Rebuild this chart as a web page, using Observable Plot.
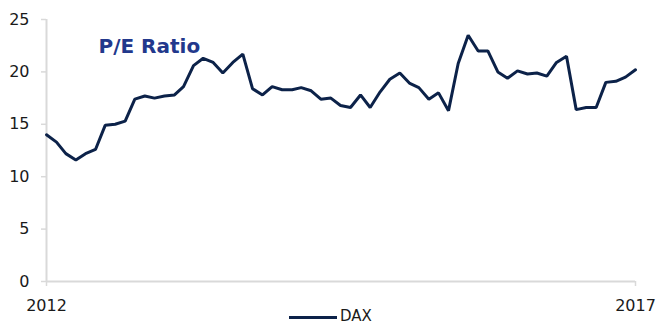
<!DOCTYPE html>
<html>
<head>
<meta charset="utf-8">
<script src="https://cdn.jsdelivr.net/npm/d3@7"></script>
<script src="https://cdn.jsdelivr.net/npm/@observablehq/plot@0.6"></script>
<style>
  html, body { margin: 0; padding: 0; background: #fff; }
  #wrap { position: relative; width: 658px; height: 324px; overflow: hidden; font-family: "DejaVu Sans", Verdana, sans-serif; }
  #legend { position: absolute; left: 0; top: 307px; width: 658px; height: 17px; }
  #legend .sw { position: absolute; left: 289px; top: 9px; width: 48px; height: 3px; background: #0c2249; }
  #legend .lb { position: absolute; left: 340px; top: 1px; font-size: 15px; line-height: 16px; color: #1a1a1a; }
</style>
</head>
<body>
<div id="wrap"><div id="chart"></div><div id="legend"><span class="sw"></span><span class="lb"></span></div></div>
<script>
const title = "P/E Ratio";
const seriesName = "DAX";
const startMonth = "2012-01-01";
const xTickLabels = ["2012", "2017"];
const yTicks = [0, 5, 10, 15, 20, 25];
const peValues = [
  14.0, 13.3, 12.2, 11.6, 12.2, 12.6, 14.9, 15.0, 15.3, 17.4, 17.7, 17.5,
  17.7, 17.8, 18.6, 20.6, 21.3, 20.9, 19.9, 20.9, 21.7, 18.4, 17.8, 18.6,
  18.3, 18.3, 18.5, 18.2, 17.4, 17.5, 16.8, 16.6, 17.8, 16.6, 18.1, 19.3,
  19.9, 18.9, 18.5, 17.4, 18.0, 16.3, 20.8, 23.5, 22.0, 22.0, 20.0, 19.4,
  20.1, 19.8, 19.9, 19.6, 20.9, 21.5, 16.4, 16.6, 16.6, 19.0, 19.1, 19.5,
  20.2
];

const start = new Date(startMonth);
const data = peValues.map((v, i) => ({ date: d3.utcMonth.offset(start, i), value: v }));
const xTickDates = xTickLabels.map(y => new Date(y + "-01-01"));

const navy = "#0c2249";
const grid = "#d9d9d9";

const chart = Plot.plot({
  width: 658,
  height: 324,
  marginLeft: 46,
  marginRight: 23,
  marginTop: 19,
  marginBottom: 43,
  style: { fontFamily: "DejaVu Sans, Verdana, sans-serif", fontSize: "16px", color: "#1a1a1a", background: "#fff" },
  x: { type: "utc", domain: [xTickDates[0], xTickDates[1]] },
  y: { domain: [0, 25] },
  marks: [
    Plot.ruleX([xTickDates[0]], { stroke: grid, strokeWidth: 2 }),
    Plot.ruleY([0], { stroke: grid, strokeWidth: 2 }),
    Plot.axisY({ ticks: yTicks, tickSize: 5, tickPadding: 12, stroke: grid, strokeWidth: 1.5, fill: "#1a1a1a", fontSize: 16, label: null }),
    Plot.axisX({ ticks: xTickDates, tickFormat: d => d3.utcFormat("%Y")(d), tickSize: 5, tickPadding: 13, stroke: grid, strokeWidth: 1.5, fill: "#1a1a1a", fontSize: 16, label: null }),
    Plot.lineY(data, { x: "date", y: "value", stroke: navy, strokeWidth: 3, strokeLinejoin: "miter" }),
    Plot.text([title], { frameAnchor: "top-left", dx: 52, dy: 33.5, lineAnchor: "bottom", textAnchor: "start", fill: "#22388c", fontWeight: "bold", fontSize: 20 })
  ]
});
document.getElementById("chart").appendChild(chart);
document.querySelector("#legend .lb").textContent = seriesName;
</script>
</body>
</html>
